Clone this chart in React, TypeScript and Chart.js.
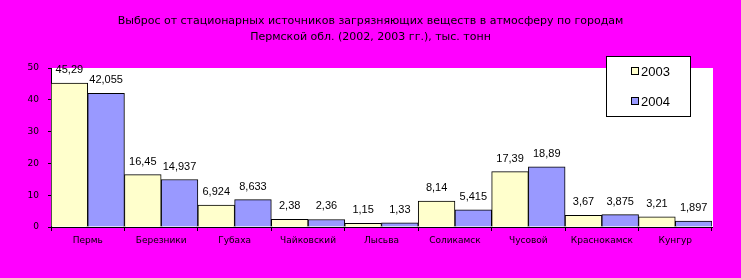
import React, { useEffect, useRef } from "react";
import { Chart, registerables } from "chart.js";

Chart.register(...registerables);

const categories = ["Пермь", "Березники", "Губаха", "Чайковский", "Лысьва", "Соликамск", "Чусовой", "Краснокамск", "Кунгур"];
const series2003 = [45.29, 16.45, 6.924, 2.38, 1.15, 8.14, 17.39, 3.67, 3.21];
const series2004 = [42.055, 14.937, 8.633, 2.36, 1.33, 5.415, 18.89, 3.875, 1.897];
const seriesNames = ["2003", "2004"];
const titleLines = [
  "Выброс от стационарных источников загрязняющих веществ в атмосферу по городам",
  "Пермской обл. (2002, 2003 гг.), тыс. тонн",
];
const yMin = 0;
const yMax = 50;
const yStep = 10;

const colors = ["#FFFFCC", "#9999FF"];

const decorPlugin = {
  id: "decor",
  beforeDraw(chart: any) {
    const { ctx, chartArea, width, height } = chart;
    ctx.save();
    ctx.fillStyle = "#FF00FF";
    ctx.fillRect(0, 0, width, height);
    ctx.fillStyle = "#FFFFFF";
    ctx.fillRect(chartArea.left, chartArea.top, chartArea.right - chartArea.left + 1, chartArea.bottom - chartArea.top);
    ctx.restore();
  },
  afterDatasetsDraw(chart: any) {
    const { ctx } = chart;
    ctx.save();
    ctx.font = "11px 'Liberation Sans', Arial, sans-serif";
    ctx.fillStyle = "#000";
    ctx.textAlign = "center";
    ctx.textBaseline = "alphabetic";
    chart.data.datasets.forEach((ds: any, di: number) => {
      const meta = chart.getDatasetMeta(di);
      meta.data.forEach((el: any, i: number) => {
        const txt = String(ds.data[i]).replace(".", ",");
        ctx.fillText(txt, el.x, el.y - 10);
      });
    });
    ctx.restore();
  },
  afterDraw(chart: any) {
    const { ctx, width } = chart;
    ctx.save();
    // title
    ctx.font = "11px 'DejaVu Sans', sans-serif";
    ctx.fillStyle = "#000";
    ctx.textAlign = "center";
    ctx.textBaseline = "alphabetic";
    ctx.fillText(titleLines[0], width / 2, 24);
    ctx.fillText(titleLines[1], width / 2, 40);
    // legend
    ctx.fillStyle = "#FFFFFF";
    ctx.fillRect(606, 56, 84, 60);
    ctx.strokeStyle = "#000";
    ctx.lineWidth = 1;
    ctx.strokeRect(606.5, 56.5, 84, 60);
    ctx.font = "13px 'Liberation Sans', Arial, sans-serif";
    ctx.textAlign = "left";
    seriesNames.forEach((name, i) => {
      const y = 67 + i * 30;
      ctx.fillStyle = colors[i];
      ctx.fillRect(631, y, 8, 8);
      ctx.strokeRect(631.5, y + 0.5, 7, 7);
      ctx.fillStyle = "#000";
      ctx.fillText(name, 641, y + 9);
    });
    ctx.restore();
  },
};

export default function App() {
  const ref = useRef<HTMLCanvasElement>(null);
  useEffect(() => {
    document.body.style.margin = "0";
    const chart = new Chart(ref.current!, {
      type: "bar",
      data: {
        labels: categories,
        datasets: [
          { label: seriesNames[0], data: series2003, backgroundColor: colors[0], borderColor: "#000", borderWidth: 1 },
          { label: seriesNames[1], data: series2004, backgroundColor: colors[1], borderColor: "#000", borderWidth: 1 },
        ],
      },
      options: {
        responsive: false,
        animation: false,
        devicePixelRatio: 1,
        datasets: { bar: { categoryPercentage: 1, barPercentage: 1 } },
        layout: { padding: { top: 68, right: 29, left: 0, bottom: 0 } },
        plugins: { legend: { display: false }, title: { display: false }, tooltip: { enabled: false } },
        scales: {
          x: {
            afterFit: (s: any) => { s.height = 51; },
            grid: { display: true, drawOnChartArea: false, drawTicks: true, tickLength: 4, color: "#000", offset: true },
            border: { display: true, color: "#000", width: 1 },
            ticks: { color: "#000", font: { family: "'DejaVu Sans', sans-serif", size: 9 }, padding: 4, maxRotation: 0, autoSkip: false },
          },
          y: {
            min: yMin,
            max: yMax,
            afterFit: (s: any) => { s.width = 51; },
            grid: { display: true, drawOnChartArea: false, drawTicks: true, tickLength: 3, color: "#000" },
            border: { display: true, color: "#000", width: 1 },
            ticks: { stepSize: yStep, color: "#000", font: { family: "'DejaVu Sans', sans-serif", size: 9 }, padding: 9 },
          },
        },
      },
      plugins: [decorPlugin],
    });
    return () => chart.destroy();
  }, []);
  return (
    <div style={{ position: "absolute", left: 0, top: 0, width: 741, height: 278 }}>
      <canvas ref={ref} width={741} height={278} style={{ display: "block" }} />
    </div>
  );
}
